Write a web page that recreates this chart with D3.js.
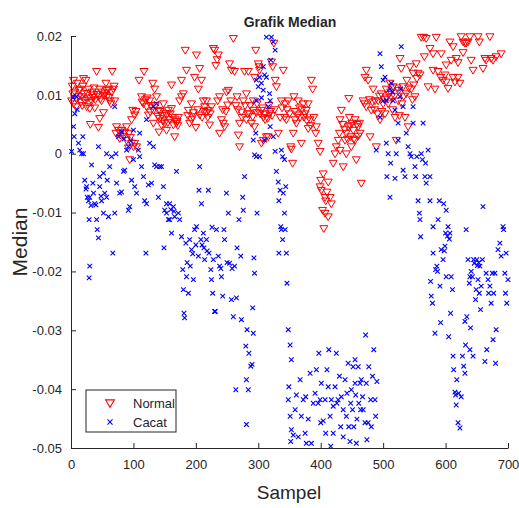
<!DOCTYPE html>
<html>
<head>
<meta charset="utf-8">
<script src="https://cdnjs.cloudflare.com/ajax/libs/d3/7.8.5/d3.min.js"></script>
<style>
  body { margin: 0; background: #fff; }
  text { font-family: "Liberation Sans", Arial, sans-serif; fill: #262626; }
</style>
</head>
<body>
<div class="vizHolder"></div>
<script>
var width = 519,
    height = 508;

// [sample, median]
var normalPts = [
  [1,0.009],[4,0.0125],[10,0.012],[14,0.011],[20,0.0128],[24,0.0125],[8,0.008],[4,0.0085],[17,0.0097],[28,0.011],
  [30,0.0077],[31,0.005],[36,0.01],[41,0.014],[44,0.0097],[46,0.011],[49,0.009],[44,0.0045],[52,0.007],[56,0.012],
  [60,0.011],[62,0.009],[66,0.014],[68,0.011],[70,0.009],[69,0.0115],[46,0.006],[25,0.008],[38,0.0078],[21,0.0102],
  [12,0.0097],[55,0.0102],[33,0.009],[6,0.0105],[16,0.0088],[27,0.0095],[34,0.0105],[39,0.0092],[50,0.0105],[58,0.0098],
  [64,0.0085],[2,0.0115],[19,0.0115],
  [3,0.0102],[9,0.0093],[13,0.0108],[18,0.0082],[22,0.0091],[26,0.0103],[29,0.0087],[35,0.0096],[37,0.0112],[42,0.0101],
  [47,0.0093],[53,0.0099],[57,0.0108],[61,0.0096],[65,0.0105],
  [73,0.0046],[76,0.004],[79,0.0035],[84,0.003],[86,0.0037],[89,0.0023],[92,0.001],[94,-0.001],[97,0.0018],[100,0.0012],
  [102,0.0018],[105,0.0012],[99,0.0074],[102,0.0066],[97,0.0058],[93,0.0035],[78,0.0026],[72,0.0035],[89,0.0046],[81,0.004],
  [95,0.0028],[104,0.0072],
  [109,0.0125],[117,0.014],[113,0.0097],[116,0.0085],[121,0.008],[126,0.009],[131,0.012],[134,0.011],[137,0.0097],[140,0.0074],
  [142,0.006],[148,0.0085],[150,0.0052],[153,0.0066],[156,0.0074],[158,0.0058],[161,0.0117],[164,0.0049],[166,0.0029],[169,0.0052],
  [172,0.0062],[174,0.009],[177,0.0097],[180,0.0102],[124,0.0066],[132,0.0074],[145,0.0049],[153,0.004],[161,0.0077],[141,0.0037],
  [132,0.0052],[119,0.0092],[128,0.0082],[146,0.0065],[163,0.0062],[170,0.0055],
  [114,0.0088],[122,0.0095],[127,0.0071],[135,0.0082],[139,0.0064],[143,0.0072],[147,0.0056],[151,0.0069],[155,0.0053],[159,0.0068],
  [167,0.0058],[171,0.0048],
  [183,0.0176],[185,0.0142],[188,0.0074],[190,0.0052],[193,0.0058],[196,0.007],[198,0.013],[201,0.0168],[204,0.011],[206,0.0145],
  [209,0.0125],[212,0.009],[214,0.008],[217,0.007],[220,0.0074],[222,0.0049],[228,0.0179],[230,0.0176],[232,0.015],[234,0.016],
  [236,0.0168],[238,0.0097],[241,0.0058],[244,0.0052],[246,0.0046],[249,0.0105],[252,0.0108],[254,0.0153],[257,0.0142],[260,0.0196],
  [193,0.0085],[206,0.0066],[225,0.008],[177,0.0125],[217,0.009],[238,0.0035],[200,0.0045],[210,0.0062],[243,0.0075],[256,0.009],
  [187,0.0065],[195,0.0063],[203,0.0075],[213,0.0072],[219,0.0062],[223,0.0068],[235,0.009],[248,0.0072],[251,0.0083],
  [262,0.014],[266,0.0097],[268,0.0032],[270,0.0012],[273,0.0071],[276,0.009],[278,0.014],[281,0.0102],[284,0.014],[286,0.0068],
  [289,0.0052],[292,0.0074],[294,0.013],[296,0.0176],[300,0.0153],[301,0.0148],[302,0.0142],[305,0.0074],[308,0.0062],[310,0.0068],
  [313,0.0029],[316,0.0029],[318,0.0068],[321,0.0156],[323,0.0148],[325,0.0188],[327,0.0125],[329,0.0114],[270,0.0052],[281,0.0058],
  [294,0.0046],[308,0.0023],[292,0.009],[315,0.006],[305,0.0018],[264,0.0082],[298,0.0085],[320,0.0072],
  [267,0.0075],[274,0.0062],[279,0.0082],[283,0.0068],[287,0.0082],[291,0.0063],[297,0.007],[303,0.0068],[307,0.0078],[311,0.0058],
  [317,0.0082],[322,0.0065],[326,0.0075],
  [332,0.0035],[335,0.0062],[337,0.009],[340,0.0142],[342,0.0062],[345,0.0058],[348,0.009],[352,0.0012],[355,-0.0016],[357,0.0097],
  [359,0.0058],[361,0.0052],[364,0.009],[367,0.0062],[369,0.0018],[372,0.0085],[375,0.0068],[377,0.0074],[380,0.0043],[383,0.0058],
  [385,0.0125],[387,0.011],[389,0.0062],[392,0.0035],[396,0.0018],[399,0.0004],[400,-0.0045],[401,-0.0062],[404,-0.0034],[407,-0.0074],
  [408,-0.008],[410,-0.0065],[412,-0.0048],[415,-0.0074],[417,-0.0085],[403,-0.0096],[407,-0.0101],[412,-0.0107],[405,-0.0127],[399,-0.0056],
  [356,0.0035],[380,0.0085],[393,0.0046],[353,0.0008],[370,0.0075],[346,0.0075],
  [338,0.0078],[343,0.0085],[350,0.0068],[358,0.0072],[363,0.0066],[366,0.0078],[373,0.0062],[378,0.0056],[384,0.0048],
  [420,-0.0016],[423,0],[425,0.0012],[428,0.0023],[431,0.0058],[433,0.0074],[436,-0.0022],[439,0.0023],[441,0.0035],[444,0.0046],
  [445,0.0094],[448,0.0029],[449,0.0012],[452,0.004],[455,0.0058],[457,-0.001],[460,0.0046],[463,0.0035],[465,-0.005],[468,0.009],
  [471,0.013],[473,0.0142],[476,0.0125],[479,0.0029],[481,0.0074],[484,0.011],[487,0.009],[489,0.0012],[492,0.009],[495,0.0058],
  [497,0.0102],[500,0.0085],[446,0.0062],[455,0.0023],[473,0.008],[431,0.0006],[441,0],[438,0.0042],[450,0.0052],[460,0.003],[470,0.0085],
  [430,0.0035],[435,0.005],[443,0.0025],[447,0.0048],[453,0.0025],[458,0.005],[462,0.0052],[478,0.0092],[483,0.0088],[486,0.0075],
  [491,0.0068],[494,0.0098],[498,0.0072],
  [503,0.0068],[505,0.011],[508,0.0085],[511,0.012],[513,0.0097],[516,0.0114],[519,0.0062],[521,0.0023],[524,0.009],[527,0.0162],
  [529,0.0145],[532,0.0114],[535,0.0062],[537,0.0102],[540,0.0046],[543,0.0148],[545,0.011],[548,0.0137],[551,0.0097],[553,0.0153],
  [556,0.0137],[559,0.0134],[506,0.0095],[515,0.0075],[525,0.0108],[530,0.0085],[538,0.0125],[547,0.0092],
  [502,0.0092],[509,0.0101],[512,0.0105],[518,0.0098],[522,0.0112],[526,0.0065],[533,0.0098],[541,0.0112],[549,0.0117],[554,0.0128],
  [561,0.0198],[565,0.0198],[569,0.0196],[572,0.0114],[575,0.0179],[580,0.017],[583,0.011],[585,0.0198],[588,0.014],[592,0.013],
  [593,0.017],[596,0.0125],[599,0.0134],[601,0.0122],[604,0.0111],[607,0.019],[609,0.0159],[612,0.0182],[615,0.0122],[617,0.0162],
  [620,0.013],[623,0.012],[625,0.0199],[628,0.019],[631,0.0188],[633,0.0188],[636,0.019],[639,0.0199],[641,0.0159],[644,0.0142],
  [652,0.0199],[654,0.019],[660,0.0145],[663,0.0162],[665,0.0159],[671,0.0199],[673,0.0162],[676,0.0159],[681,0.0165],[689,0.017],
  [601,0.0151],[612,0.013],[580,0.0142],[620,0.0155],[628,0.0172],[566,0.0165]
];

var cacatPts = [
  [1,0.0004],[4,0.0046],[5,0.0029],[6,0.0068],[9,0.0097],[12,0.0018],[14,0.0006],[17,0],[20,0],[22,-0.0045],
  [25,-0.0056],[26,-0.0074],[28,-0.008],[30,-0.0074],[33,-0.0019],[35,-0.005],[36,-0.0067],[38,-0.0085],[40,-0.0087],[41,-0.0112],
  [42,-0.0129],[44,-0.0143],[29,-0.0112],[30,-0.0191],[29,-0.0211],[46,-0.0056],[49,-0.008],[52,-0.0101],[54,-0.0067],[57,-0.0074],
  [58,-0.0045],[60,-0.0107],[62,-0.0022],[65,-0.0005],[67,-0.0169],[70,-0.0101],[44,0.0012],[46,-0.0039],[52,-0.0033],[57,0],
  [72,0],[70,0.008],[19,0.0029],[24,-0.006],[32,-0.0088],[48,-0.0072],[10,0.0075],[3,0.0095],
  [73,-0.005],[76,0.0029],[78,-0.0067],[81,-0.0065],[84,-0.003],[86,-0.0028],[89,0.0006],[92,-0.0096],[94,-0.009],[97,-0.0045],
  [100,-0.001],[102,-0.0056],[105,-0.0067],[108,0.0006],[110,-0.0005],[113,-0.0022],[116,-0.0039],[118,-0.008],[121,-0.0085],[124,-0.0053],
  [126,0.0018],[129,-0.005],[132,0.0012],[134,-0.0019],[137,-0.0022],[140,-0.0074],[142,-0.0022],[145,-0.0022],[148,-0.0056],[149,-0.016],
  [150,-0.0096],[153,-0.0101],[156,-0.0112],[158,-0.0085],[161,-0.0135],[164,-0.009],[166,-0.0107],[169,-0.003],[172,-0.0101],[174,-0.0112],
  [177,-0.0141],[120,-0.0169],[100,0.004],[110,0.0035],[121,0.0058],[137,0.0085],[132,0.008],[158,-0.0112],[153,-0.0085],[92,0.0012],
  [81,0.0037],[85,0.0025],[96,0.0022],[160,-0.0095],[165,-0.0098],
  [179,-0.0197],[180,-0.0231],[181,-0.0271],[182,-0.0279],[184,-0.0152],[185,-0.0209],[188,-0.0237],[190,-0.0146],[191,-0.0191],[193,-0.0163],
  [196,-0.0214],[198,-0.0129],[201,-0.0124],[204,-0.0174],[205,-0.0062],[206,-0.0022],[208,-0.0146],[209,-0.0085],[212,-0.0135],[213,-0.016],
  [214,-0.018],[217,-0.0146],[220,-0.0062],[221,-0.0169],[224,-0.0197],[225,-0.0214],[227,-0.0237],[228,-0.018],[230,-0.0268],[233,-0.0129],
  [236,-0.0174],[238,-0.0191],[241,-0.0209],[243,-0.0242],[245,-0.0129],[246,-0.0146],[249,-0.0067],[252,-0.0101],[254,-0.0186],[257,-0.0248],
  [260,-0.0277],[262,-0.0191],[265,-0.0245],[266,-0.016],[269,-0.0112],[272,-0.0174],[273,-0.0282],[275,-0.0074],[276,-0.0096],[278,-0.0039],
  [280,-0.0327],[281,-0.0384],[282,-0.0299],[284,-0.0401],[285,-0.0339],[288,-0.0361],[290,-0.0358],[292,-0.0305],[293,-0.0177],[294,-0.0203],
  [264,-0.0401],[281,-0.046],[291,-0.0262],[297,-0.0005],[296,0.0035],[298,-0.0101],[186,-0.0185],[195,-0.017],[210,-0.0155],[218,-0.0165],
  [231,-0.0268],[240,-0.0195],[250,-0.0185],[258,-0.0195],[200,-0.0155],[226,-0.0125],
  [297,0.0125],[300,0.0114],[302,0.013],[305,0.012],[308,0.0148],[310,0.0134],[313,0.0198],[318,0.0102],[319,0.009],[321,0.0198],
  [324,0.019],[327,0.0176],[320,0.0159],[313,0.013],[308,0.0108],[316,0.008],[324,0.0029],[327,0.0004],[329,-0.003],[332,-0.0048],
  [302,-0.0005],[292,0.0023],[294,-0.0002],[310,0.0023],[319,0.0046],[297,0.009],[305,0.0095],
  [333,-0.008],[335,-0.0062],[336,-0.0124],[337,-0.0129],[339,-0.0146],[340,-0.0067],[342,-0.0101],[343,-0.0129],[344,-0.0056],[345,-0.0169],
  [346,-0.022],[339,-0.0005],[342,-0.001],[333,-0.0169],[337,0.0006],
  [348,-0.0299],[351,-0.0325],[353,-0.035],[349,-0.0396],[348,-0.0418],[351,-0.0446],[353,-0.0469],[352,-0.0489],[356,-0.0478],[359,-0.0435],
  [361,-0.041],[364,-0.0481],[367,-0.0384],[369,-0.0446],[372,-0.0418],[375,-0.0475],[376,-0.0413],[377,-0.0492],[380,-0.0451],[383,-0.0373],
  [385,-0.0492],[388,-0.0424],[391,-0.0407],[393,-0.0367],[396,-0.0424],[397,-0.0339],[400,-0.0457],[401,-0.039],[404,-0.0454],[407,-0.0418],
  [408,-0.0475],[410,-0.0367],[412,-0.0396],[413,-0.0333],[415,-0.0446],[416,-0.0497],[417,-0.0418],[420,-0.0429],[423,-0.0396],[425,-0.0339],
  [426,-0.0424],[428,-0.0418],[430,-0.0378],[432,-0.0464],[433,-0.0413],[436,-0.0481],[439,-0.0384],[441,-0.0446],[442,-0.0407],[444,-0.0356],
  [445,-0.0464],[447,-0.0489],[448,-0.0424],[449,-0.0401],[451,-0.0435],[452,-0.0362],[453,-0.0464],[455,-0.039],[456,-0.041],[457,-0.0492],
  [458,-0.0451],[460,-0.0362],[461,-0.0424],[463,-0.039],[464,-0.0435],[465,-0.0384],[467,-0.0413],[468,-0.0435],[471,-0.0457],[472,-0.0308],
  [473,-0.039],[474,-0.0486],[476,-0.0457],[477,-0.0362],[480,-0.0418],[481,-0.0464],[483,-0.0378],[485,-0.0333],[487,-0.0418],[488,-0.0446],
  [490,-0.0387],[399,-0.0418],[436,-0.0435],[455,-0.035],[420,-0.0475],
  [489,0.0006],[495,0.017],[497,0.0148],[500,0.0125],[503,0.013],[505,0.0018],[506,-0.0039],[508,0],[511,-0.0074],[512,-0.0016],
  [513,0.012],[516,0.009],[519,-0.0042],[521,0],[524,0.0023],[527,0.0097],[529,0.0182],[532,-0.0028],[535,-0.0039],[537,0.0035],
  [540,0.0012],[543,0],[545,-0.0005],[548,0.0052],[551,-0.0022],[552,-0.0039],[554,-0.0005],[556,-0.008],[558,-0.0101],[559,-0.0112],
  [560,-0.0141],[561,0],[563,-0.001],[564,0.0052],[567,-0.0039],[568,-0.0016],[569,-0.005],[572,0.0006],[575,-0.0039],[505,0.009],
  [511,0.011],[519,0.0074],[524,0.0052],[532,0.008],[495,0.0062],[500,0.009],[548,0.008],[515,0.0105],[528,0.011],
  [575,-0.008],[576,-0.0217],[577,-0.0242],[579,-0.0254],[580,-0.0169],[583,-0.0305],[584,-0.0197],[586,-0.0191],[588,-0.0112],[590,-0.008],
  [591,-0.0225],[592,-0.0287],[593,-0.0163],[596,-0.018],[597,-0.0085],[599,-0.0157],[600,-0.0135],[601,-0.0209],[604,-0.0124],[605,-0.0311],
  [607,-0.0135],[608,-0.0271],[609,-0.0209],[611,-0.0231],[612,-0.0344],[613,-0.0367],[615,-0.0405],[616,-0.041],[617,-0.0427],[618,-0.0384],
  [620,-0.0457],[621,-0.0407],[623,-0.0466],[625,-0.0413],[627,-0.0344],[629,-0.0361],[631,-0.0285],[632,-0.0325],[633,-0.0129],[634,-0.0277],
  [636,-0.018],[638,-0.022],[639,-0.0333],[640,-0.0296],[641,-0.02],[643,-0.0209],[644,-0.0344],[645,-0.018],[646,-0.0186],[648,-0.0248],
  [649,-0.0231],[650,-0.018],[652,-0.0214],[654,-0.0237],[655,-0.0191],[656,-0.0265],[657,-0.0225],[659,-0.018],[660,-0.009],[663,-0.0353],
  [665,-0.0203],[666,-0.0333],[668,-0.0214],[669,-0.0237],[671,-0.0225],[673,-0.0254],[675,-0.0203],[676,-0.0316],[677,-0.0237],[679,-0.0203],
  [680,-0.0356],[681,-0.0299],[684,-0.0163],[687,-0.0152],[689,-0.0174],[692,-0.0124],[693,-0.0129],[695,-0.0203],[696,-0.0237],[697,-0.0169],
  [698,-0.0254],[700,-0.0214],[580,-0.0124],[601,-0.0096],[631,-0.0373],[639,-0.0209],[603,-0.014],[606,-0.0145],[651,-0.019],[653,-0.0185],
  [598,-0.0165],[587,-0.02]
];

var xTicks = [0, 100, 200, 300, 400, 500, 600, 700];
var yTicks = [-0.05, -0.04, -0.03, -0.02, -0.01, 0, 0.01, 0.02];
var legendLabels = ['Normal', 'Cacat'];

var svgContainer = d3.select('.vizHolder')
                     .append('svg')
                     .attr('width', width)
                     .attr('height', height);

var xScale = d3.scaleLinear().domain([0, 700]).range([71, 508]);
var yScale = d3.scaleLinear().domain([-0.05, 0.02]).range([448, 36]);

// plain hyphen for negative numbers, like MATLAB
var fmt = d3.formatLocale({decimal: '.', thousands: ',', grouping: [3], currency: ['', ''], minus: '-'});

var triPath = 'M-4,-2.8L4,-2.8L0,4Z';
var crossPath = 'M-2.3,-2.3L2.3,2.3M-2.3,2.3L2.3,-2.3';

//normal points (down triangles)
svgContainer.append('g')
            .selectAll('path')
            .data(normalPts)
            .enter().append('path')
            .attr('d', triPath)
            .attr('transform', function(d){ return 'translate(' + xScale(d[0]) + ',' + yScale(d[1]) + ')'; })
            .attr('fill', 'none')
            .attr('stroke', '#ff0000')
            .attr('stroke-width', 1);

//cacat points (crosses)
svgContainer.append('g')
            .selectAll('path')
            .data(cacatPts)
            .enter().append('path')
            .attr('d', crossPath)
            .attr('transform', function(d){ return 'translate(' + xScale(d[0]) + ',' + yScale(d[1]) + ')'; })
            .attr('fill', 'none')
            .attr('stroke', '#0000ff')
            .attr('stroke-width', 1.1);

//axes
var xAxis = d3.axisBottom(xScale)
              .tickValues(xTicks)
              .tickSizeInner(-5)
              .tickSizeOuter(0)
              .tickPadding(12)
              .tickFormat(fmt.format('d'));

var yAxis = d3.axisLeft(yScale)
              .tickValues(yTicks)
              .tickSizeInner(-5)
              .tickSizeOuter(0)
              .tickPadding(9)
              .tickFormat(function(d){ return d === 0 ? '0' : fmt.format('.2f')(d); });

var xAxisGroup = svgContainer.append('g')
                             .attr('transform', 'translate(0,448)')
                             .call(xAxis);

var yAxisGroup = svgContainer.append('g')
                             .attr('transform', 'translate(71,0)')
                             .call(yAxis);

[xAxisGroup, yAxisGroup].forEach(function(g){
  g.selectAll('path, line').attr('stroke', '#262626');
  g.selectAll('text')
   .style('font-family', '"Liberation Sans", Arial, sans-serif')
   .style('font-size', '13px')
   .attr('fill', '#262626');
});

//title
svgContainer.append('text')
            .attr('x', 290)
            .attr('y', 27)
            .attr('text-anchor', 'middle')
            .style('font-size', '14px')
            .style('font-weight', 'bold')
            .attr('fill', '#000')
            .text('Grafik Median');

//X-Axis title
svgContainer.append('text')
            .attr('x', 289)
            .attr('y', 499)
            .attr('text-anchor', 'middle')
            .style('font-size', '19px')
            .text('Sampel');

//Y-Axis title
svgContainer.append('text')
            .attr('transform', 'translate(27,242) rotate(-90)')
            .attr('text-anchor', 'middle')
            .style('font-size', '21px')
            .text('Median');

//legend
var legend = svgContainer.append('g');

legend.append('rect')
      .attr('x', 86)
      .attr('y', 390)
      .attr('width', 90)
      .attr('height', 42)
      .attr('fill', '#fff')
      .attr('stroke', '#262626');

legend.append('path')
      .attr('d', triPath)
      .attr('transform', 'translate(110,403) scale(1.1)')
      .attr('fill', 'none')
      .attr('stroke', '#ff0000');

legend.append('path')
      .attr('d', crossPath)
      .attr('transform', 'translate(110,422) scale(1.1)')
      .attr('fill', 'none')
      .attr('stroke', '#0000ff');

legend.selectAll('text.lab')
      .data(legendLabels)
      .enter().append('text')
      .attr('class', 'lab')
      .attr('x', 133)
      .attr('y', function(d, i){ return 408 + i * 19; })
      .style('font-size', '13px')
      .attr('fill', '#000')
      .text(function(d){ return d; });
</script>
</body>
</html>
